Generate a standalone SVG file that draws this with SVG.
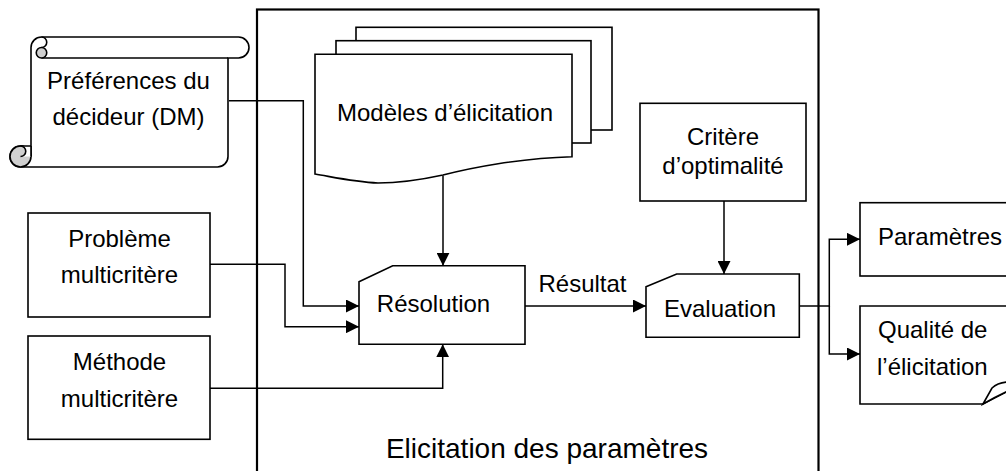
<svg xmlns="http://www.w3.org/2000/svg" width="1006" height="471" viewBox="0 0 1006 471">
<style>
  .shape{fill:#fff;stroke:#000;stroke-width:1.6}
  .frame{fill:none;stroke:#000;stroke-width:2.2}
  .curl{fill:#d0d0d0;stroke:#000;stroke-width:1.6}
  .line{fill:none;stroke:#000;stroke-width:1.6}
  .conn{fill:none;stroke:#000;stroke-width:1.5}
  text{font-family:"Liberation Sans",Arial,sans-serif;font-size:24px;fill:#000}
  .c{text-anchor:middle}
  .big{font-size:28px}
</style>
<defs>
  <marker id="arr" markerUnits="userSpaceOnUse" markerWidth="13" markerHeight="13" refX="13" refY="6.5" orient="auto">
    <path d="M0,0 L13,6.5 L0,13 Z" fill="#000"/>
  </marker>
</defs>
<rect width="1006" height="471" fill="#fff"/>

<g id="frame">
  <rect class="frame" x="257" y="9.5" width="561.5" height="480"/>
  <text class="c big" x="547" y="458">Elicitation des paramètres</text>
</g>

<g id="preferences">
  <path class="shape" d="M31,47.5 A10.5,10.5 0 0 1 41.5,37 L238.5,37 A10.5,10.5 0 0 1 238.5,58 L228,58 L228,156.5 A10.5,10.5 0 0 1 217.5,167 L20.5,167 A10.5,10.5 0 0 1 20.5,146 A10.5,10.5 0 0 1 31,156.5 Z"/>
  <path class="line" d="M41.5,58 L228,58"/>
  <path class="line" d="M41.5,37 A5.25,5.25 0 0 1 41.5,47.5"/>
  <circle class="curl" cx="41.5" cy="52.75" r="5.25"/>
  <circle class="curl" cx="20.5" cy="156.5" r="10.5"/>
  <path d="M20.5,146 A5.25,5.25 0 0 1 20.5,156.5 L31,156.5 L31,146 Z" fill="#fff"/>
  <path class="line" d="M20.5,146 A5.25,5.25 0 0 1 20.5,156.5"/>
  <path class="line" d="M20.5,146 L31,146 M31,146 L31,156.5"/>
  <text class="c" x="128.5" y="89">Préférences du</text>
  <text class="c" x="128.5" y="125">décideur (DM)</text>
</g>

<g id="modeles">
  <rect class="shape" x="356" y="27.3" width="256" height="102.7"/>
  <rect class="shape" x="336" y="40.7" width="255" height="102.3"/>
  <path class="shape" d="M315,54.3 L572,54.3 L572,156.7 C520,158 470,168 443,175 C420,180 400,183 378,183 C355,182 333,177 315,174 Z"/>
  <text class="c" x="445" y="121">Modèles d’élicitation</text>
</g>

<g id="critere">
  <rect class="shape" x="640" y="103.3" width="166" height="97.7"/>
  <text class="c" x="723" y="145">Critère</text>
  <text class="c" x="723" y="174">d’optimalité</text>
</g>

<g id="probleme">
  <rect class="shape" x="28" y="213" width="182" height="104"/>
  <text class="c" x="119.5" y="247">Problème</text>
  <text class="c" x="119.5" y="283">multicritère</text>
</g>

<g id="methode">
  <rect class="shape" x="28" y="336" width="182" height="103.3"/>
  <text class="c" x="119.5" y="370">Méthode</text>
  <text class="c" x="119.5" y="407">multicritère</text>
</g>

<g id="resolution">
  <path class="shape" d="M359,281.7 L392.7,265.7 L525,265.7 L525,344.3 L359,344.3 Z"/>
  <text class="c" x="433.5" y="312">Résolution</text>
</g>

<g id="evaluation">
  <path class="shape" d="M646,286.7 L676.7,274 L799.3,274 L799.3,337.3 L646,337.3 Z"/>
  <text class="c" x="720" y="317">Evaluation</text>
</g>

<g id="parametres">
  <rect class="shape" x="860" y="202.7" width="160" height="73.3"/>
  <text x="878" y="245">Paramètres</text>
</g>

<g id="qualite">
  <path class="shape" d="M1010,306 L860,306 L860,404 L983,404 L1010,390"/>
  <path class="shape" d="M983,404 L992,388 Q998,382.5 1008,382 L1008,391 Q995,397 983,404 Z"/>
  <text x="878" y="338">Qualité de</text>
  <text x="877" y="375">l’élicitation</text>
</g>

<g id="connectors">
  <path class="conn" d="M229,100.7 L303.3,100.7 L303.3,306 L359,306" marker-end="url(#arr)"/>
  <path class="conn" d="M210,264.3 L285,264.3 L285,326.7 L359,326.7" marker-end="url(#arr)"/>
  <path class="conn" d="M210,388.3 L442.7,388.3 L442.7,344.3" marker-end="url(#arr)"/>
  <path class="conn" d="M443,175.5 L443,265.7" marker-end="url(#arr)"/>
  <path class="conn" d="M525,306 L646,306" marker-end="url(#arr)"/>
  <text x="582.5" y="292" class="c">Résultat</text>
  <path class="conn" d="M724,201 L724,274" marker-end="url(#arr)"/>
  <path class="conn" d="M799.3,306 L829.3,306 L829.3,239.3 L860,239.3" marker-end="url(#arr)"/>
  <path class="conn" d="M829.3,306 L829.3,354 L860,354" marker-end="url(#arr)"/>
</g>
</svg>
